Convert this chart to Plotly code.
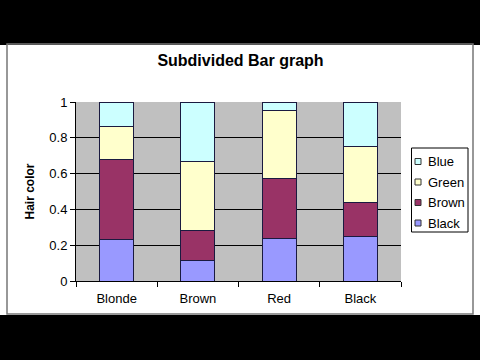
import plotly.graph_objects as go

categories = ["Blonde", "Brown", "Red", "Black"]
series_names = ["Black", "Brown", "Green", "Blue"]
black_vals = [0.23, 0.115, 0.235, 0.25]
brown_vals = [0.45, 0.165, 0.34, 0.19]
green_vals = [0.185, 0.39, 0.38, 0.31]
blue_vals = [0.135, 0.33, 0.045, 0.25]
colors = ["#9999FF", "#993366", "#FFFFCC", "#CCFFFF"]
y_ticks = [0, 0.2, 0.4, 0.6, 0.8, 1]
y_tick_labels = ["0", "0.2", "0.4", "0.6", "0.8", "1"]

W, H = 480, 360
L, R, T, B = 76, 79, 102, 79
pw, ph = W - L - R, H - T - B

def px(x):
    return (x - L) / pw

def py(y):
    return (H - B - y) / ph

fig = go.Figure()
for name, vals, col in zip(series_names, [black_vals, brown_vals, green_vals, blue_vals], colors):
    fig.add_trace(go.Bar(
        x=categories, y=vals, name=name,
        marker=dict(color=col, line=dict(color="#1a1a40", width=1)),
    ))

font = "Liberation Sans, Arial, sans-serif"
fig.update_layout(
    width=W, height=H,
    margin=dict(l=L, r=R, t=T, b=B, autoexpand=False),
    barmode="stack", bargap=0.58,
    paper_bgcolor="white", plot_bgcolor="#C0C0C0",
    font=dict(family=font, size=13, color="black"),
    title=dict(text="<b>Subdivided Bar graph</b>", x=px(240.5), xref="paper", xanchor="center",
               y=(H - 60) / H, yanchor="middle", font=dict(size=16)),
    showlegend=False,
    xaxis=dict(showline=True, linecolor="black", ticks="outside", ticklen=5,
               tickcolor="black", tickson="boundaries", showgrid=False,
               tickfont=dict(size=13), automargin=False, ticklabelstandoff=5),
    yaxis=dict(range=[0, 1], tickvals=y_ticks, ticktext=y_tick_labels,
               showline=True, linecolor="black", ticks="outside", ticklen=5,
               tickcolor="black", showgrid=True, gridcolor="black", gridwidth=1,
               zeroline=False, tickfont=dict(size=13), automargin=False,
               title=dict(text="<b>Hair color</b>", font=dict(size=12), standoff=12)),
)

# letterbox bars and chart frame
fig.add_shape(type="rect", xref="paper", yref="paper", x0=px(-5), x1=px(W + 5),
              y0=py(45), y1=py(-5), fillcolor="black", line=dict(width=0), layer="above")
fig.add_shape(type="rect", xref="paper", yref="paper", x0=px(-5), x1=px(W + 5),
              y0=py(H + 5), y1=py(315), fillcolor="black", line=dict(width=0), layer="above")
fig.add_shape(type="rect", xref="paper", yref="paper", x0=px(7), x1=px(473),
              y0=py(314), y1=py(44), fillcolor="rgba(0,0,0,0)",
              line=dict(color="#777777", width=1.5), layer="above")

# legend (top to bottom: Blue, Green, Brown, Black)
fig.add_shape(type="rect", xref="paper", yref="paper", x0=px(411.5), x1=px(468),
              y0=py(232), y1=py(148), fillcolor="white",
              line=dict(color="black", width=1), layer="above")
leg_y = [223, 202.5, 182, 161.5]
for name, col, yy in zip(series_names, colors, leg_y):
    fig.add_shape(type="rect", xref="paper", yref="paper", x0=px(415), x1=px(421),
                  y0=py(yy + 3), y1=py(yy - 3), fillcolor=col,
                  line=dict(color="#333333", width=1), layer="above")
    fig.add_annotation(text=name, xref="paper", yref="paper", x=px(425.5), y=py(yy),
                       xanchor="left", yanchor="middle", showarrow=False,
                       font=dict(size=13, family=font))

fig.write_html("out.html", config={"displayModeBar": False},
               post_script="document.body.style.margin='0';")
